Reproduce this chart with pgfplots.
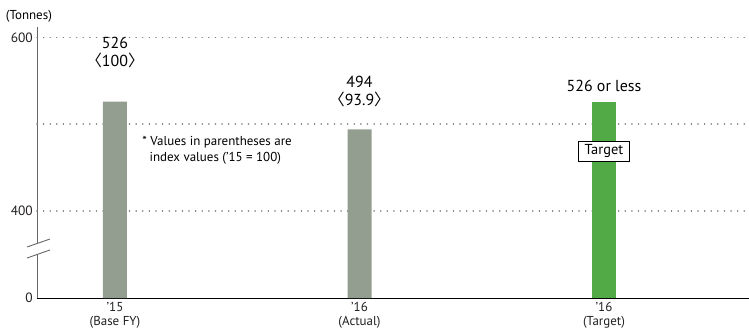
\documentclass[border=0pt]{standalone}
\usepackage{pgfplots}
\pgfplotsset{compat=1.18}
\usepackage{fontspec}
\setmainfont{PT Sans}
\newfontfamily\cjk{Noto Sans CJK JP}
\definecolor{barGrey}{HTML}{939E91}
\definecolor{barGreen}{HTML}{52AA46}
\definecolor{txt}{HTML}{231F20}
\definecolor{gridGrey}{HTML}{7A7A7A}
\newcommand{\lb}{{\cjk 〈}}
\newcommand{\rb}{{\cjk 〉}}
\begin{document}
\begin{tikzpicture}[font=\color{txt}]
\path[use as bounding box] (0,0) rectangle (749bp,335bp);
\begin{axis}[
  at={(37bp,37bp)}, anchor=south west,
  scale only axis, width=712bp, height=271bp,
  xmin=-0.319, xmax=2.593, ymin=300, ymax=612,
  axis x line*=bottom, axis y line*=left,
  x axis line style={black, line width=0.9pt},
  y axis line style={gray!80!black, line width=1pt},
  major tick length=0pt,
  % the scale is broken below 400: the bottom tick stands for 0
  ytick={300,400,600}, yticklabels={0,400,600},
  extra y ticks={400,500,600}, extra y tick labels={},
  extra y tick style={grid=major, major tick length=0pt},
  xtick={0,1,2},
  xticklabels={{’15\\(Base FY)},{’16\\(Actual)},{’16\\(Target)}},
  xticklabel style={align=center, font=\fontsize{13}{14}\selectfont\color{txt}, inner sep=0pt, yshift=-4bp},
  yticklabel style={font=\fontsize{13.5}{15}\selectfont\color{txt}, inner sep=0pt, xshift=-4bp},
  grid style={gridGrey, line width=1.6pt, dash pattern=on 0.01pt off 6.6bp, line cap=round},
  ybar, bar width=24bp, bar shift=0pt,
  clip=false,
]
\addplot[fill=barGrey, draw=none] coordinates {(0,526) (1,494)};
\addplot[fill=barGreen, draw=none] coordinates {(2,526)};

% value labels
\node[font=\fontsize{16}{18}\selectfont] at (axis cs:0,593.6) {526};
\node[font=\fontsize{16}{18}\selectfont] at (axis cs:0,574) {\lb100\rb};
\node[font=\fontsize{16}{18}\selectfont] at (axis cs:1,548.7) {494};
\node[font=\fontsize{16}{18}\selectfont] at (axis cs:1,529.1) {\lb93.9\rb};
\node[font=\fontsize{16}{18}\selectfont] at (axis cs:2,544) {526 or less};
\node[draw=black, fill=white, line width=0.8pt, inner xsep=6.5bp, inner ysep=3bp,
      font=\fontsize{14.5}{15}\selectfont] at (axis cs:2,468.7) {Target};

% note on index values
\node[anchor=west, align=left, font=\fontsize{13}{16}\selectfont] at (axis cs:0.098,470.4)
  {* Values in parentheses are\\\hspace{0.55em}index values (’15 = 100)};

% unit
\node[font=\fontsize{13}{14}\selectfont] at (axis cs:-0.352,624.7) {(Tonnes)};

% axis break
\fill[white] (axis cs:-0.36,358.7) -- (axis cs:-0.266,367.9) -- (axis cs:-0.266,355.3) -- (axis cs:-0.36,346) -- cycle;
\draw[gray!80!black, line width=0.9pt] (axis cs:-0.36,358.7) -- (axis cs:-0.266,367.9);
\draw[gray!80!black, line width=0.9pt] (axis cs:-0.36,346) -- (axis cs:-0.266,355.3);
\end{axis}
\end{tikzpicture}
\end{document}
